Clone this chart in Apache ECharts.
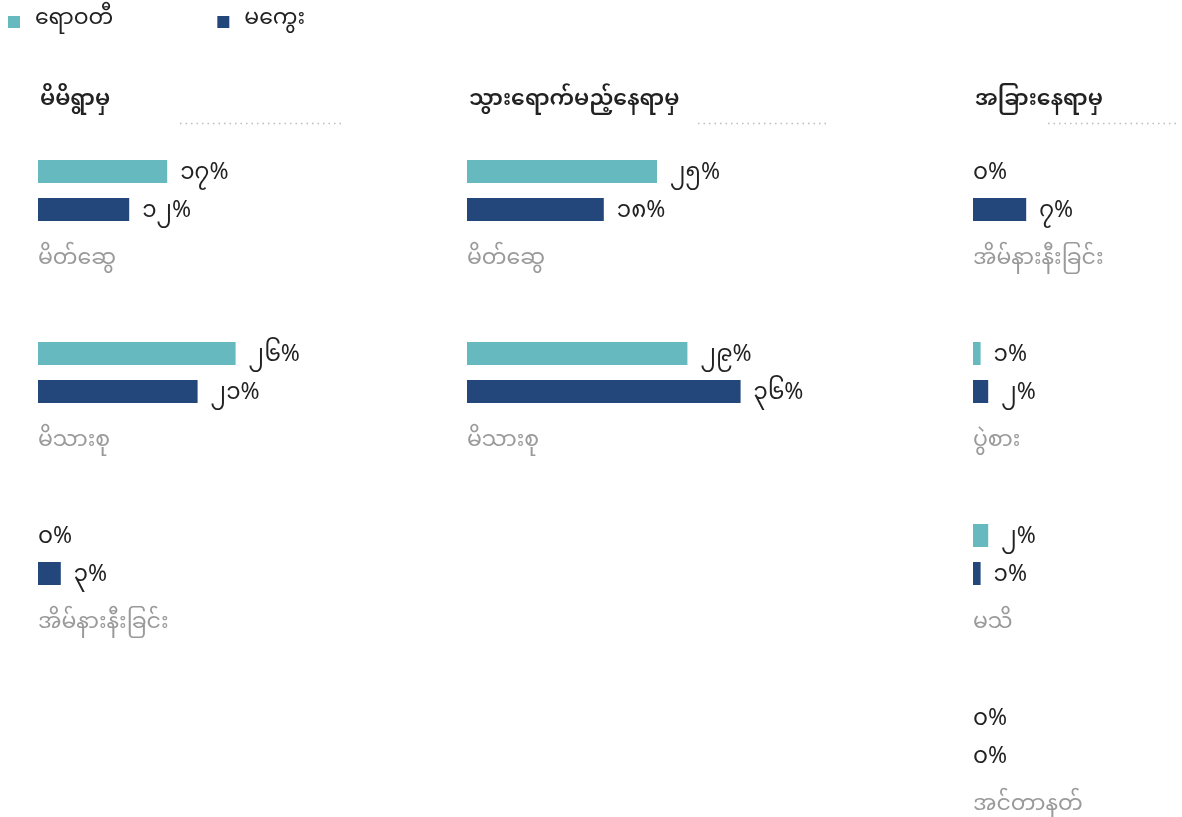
<!DOCTYPE html>
<html>
<head>
<meta charset="utf-8">
<script src="https://cdn.jsdelivr.net/npm/echarts@6/dist/echarts.min.js"></script>
<style>
  html, body { margin: 0; padding: 0; background: #fff; }
  #chart { width: 1182px; height: 817px; }
</style>
</head>
<body>
<div id="chart"></div>
<script>
var seriesNames = ['ရောဝတီ', 'မကွေး'];
var panelTitles = ['မိမိရွာမှ', 'သွားရောက်မည့်နေရာမှ', 'အခြားနေရာမှ'];

var villageCats = ['မိတ်ဆွေ', 'မိသားစု', 'အိမ်နားနီးခြင်း'];
var villageAyeyarwady = [17, 26, 0];
var villageMagway = [12, 21, 3];

var destCats = ['မိတ်ဆွေ', 'မိသားစု'];
var destAyeyarwady = [25, 29];
var destMagway = [18, 36];

var otherCats = ['အိမ်နားနီးခြင်း', 'ပွဲစား', 'မသိ', 'အင်တာနတ်'];
var otherAyeyarwady = [0, 1, 2, 0];
var otherMagway = [7, 2, 1, 0];

var colors = ['#66babf', '#23477b'];
var font = "'Noto Sans Myanmar', 'Padauk', 'Myanmar Text', 'Noto Sans', sans-serif";
var mmDigits = '၀၁၂၃၄၅၆၇၈၉';

function toMyanmar(n) {
    return String(n).replace(/[0-9]/g, function (d) { return mmDigits[+d]; });
}

var panels = [
    { cats: villageCats, a: villageAyeyarwady, b: villageMagway, left: 38, max: 50 },
    { cats: destCats, a: destAyeyarwady, b: destMagway, left: 467, max: 50 },
    { cats: otherCats, a: otherAyeyarwady, b: otherMagway, left: 973, max: 25 }
];
var pxPerPct = 7.6;
var band = 182;
var gridTop = 99.5;

var grids = [], xAxes = [], yAxes = [], series = [], titles = [];

// zero bars get their label right at the axis
function barData(values) {
    return values.map(function (v) {
        return { value: v, label: { distance: v === 0 ? 0 : 13 } };
    });
}

panels.forEach(function (p, i) {
    grids.push({
        left: p.left, top: gridTop, outerBoundsMode: 'none',
        width: p.max * pxPerPct, height: band * p.cats.length
    });
    xAxes.push({ gridIndex: i, type: 'value', min: 0, max: p.max, show: false });
    yAxes.push({
        gridIndex: i, type: 'category', inverse: true, data: p.cats,
        axisLine: { show: false }, axisTick: { show: false },
        splitLine: { show: false },
        axisLabel: {
            inside: true, margin: 0, interval: 0, color: '#9a9a9a', fontSize: 22,
            fontFamily: font, verticalAlign: 'top', lineHeight: 142
        }
    });
    [p.a, p.b].forEach(function (vals, k) {
        series.push({
            name: seriesNames[k], type: 'bar',
            xAxisIndex: i, yAxisIndex: i,
            data: barData(vals),
            barWidth: 23, barGap: '65%',
            itemStyle: { color: colors[k] },
            label: {
                show: true, position: 'right', color: '#222', fontSize: 23,
                fontFamily: font, offset: [0, 5],
                formatter: function (prm) { return toMyanmar(prm.value) + '%'; }
            },
            silent: true
        });
    });
    titles.push({
        text: panelTitles[i], left: p.left - 3, top: 87,
        textStyle: { fontSize: 22, fontWeight: 600, color: '#222', fontFamily: font }
    });
});

var dots = [[180, 345], [698, 828], [1048, 1180]].map(function (seg) {
    return {
        type: 'line',
        shape: { x1: seg[0], y1: 123.5, x2: seg[1], y2: 123.5 },
        style: { stroke: '#bcbcbc', lineWidth: 1.5, lineDash: [1.5, 4] }
    };
});

var chart = echarts.init(document.getElementById('chart'));
chart.setOption({
    animation: false,
    title: titles,
    legend: {
        data: seriesNames, left: 3, top: 6,
        icon: 'rect', itemWidth: 12, itemHeight: 12, itemGap: 104,
        textStyle: { fontSize: 22, color: '#222', fontFamily: font, padding: [0, 0, 0, 10] }
    },
    grid: grids,
    xAxis: xAxes,
    yAxis: yAxes,
    series: series,
    graphic: dots
});
</script>
</body>
</html>
